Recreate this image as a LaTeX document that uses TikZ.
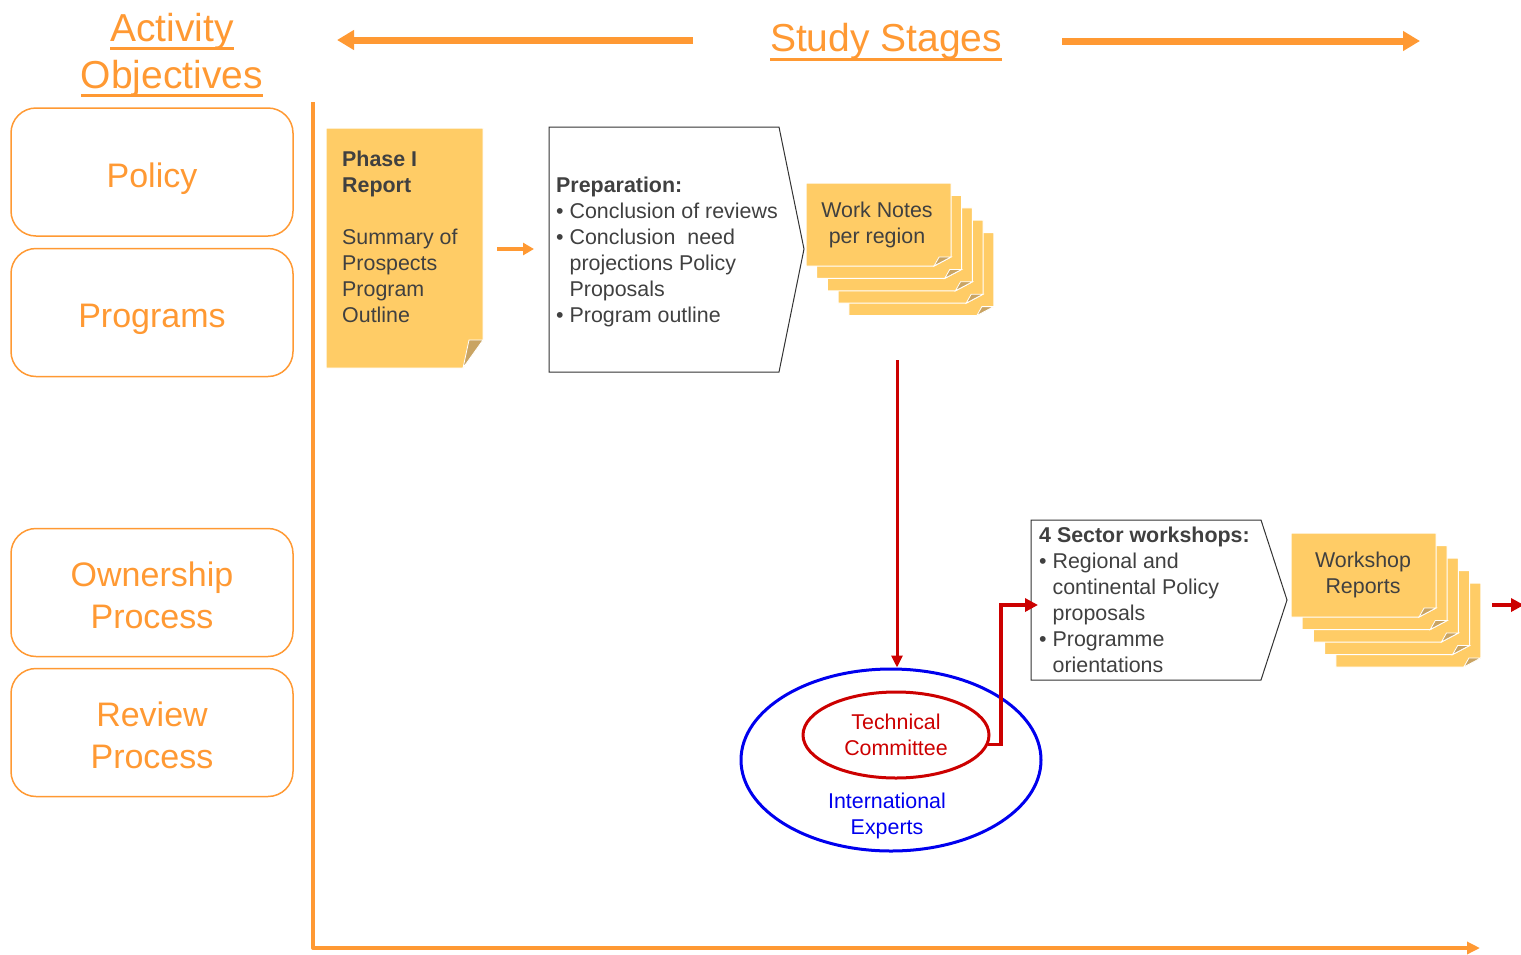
\documentclass[tikz,border=0pt]{standalone}
\usepackage{fontspec}
\setmainfont{Liberation Sans}
\usetikzlibrary{positioning}
\usetikzlibrary{arrows.meta}
\usetikzlibrary{shapes.geometric}

\definecolor{stageorange}{HTML}{FF9933}
\definecolor{notefill}{HTML}{FFCC66}
\definecolor{foldfill}{HTML}{C9A463}
\definecolor{inkgrey}{HTML}{404040}
\definecolor{tcred}{HTML}{CC0000}
\definecolor{expblue}{HTML}{0000EE}

\newcommand\titlefont{\fontsize{39}{47}\selectfont}
\newcommand\boxfont{\fontsize{34}{42}\selectfont}
\newcommand\notefont{\fontsize{21.4}{26}\selectfont}
\newcommand\thickul[1]{\setbox0\hbox{#1}\rlap{\rule[-9pt]{\wd0}{3pt}}\box0}

\tikzset{
  objbox/.style={draw=stageorange, line width=1.5pt, rounded corners=25pt,
    minimum width=282pt, minimum height=128pt},
  objlabel/.style={text=stageorange, font=\boxfont, align=center, inner sep=0pt},
  stagearrow/.style={draw=stageorange, line width=7pt,
    -{Triangle[length=17pt,width=19pt]}},
  axisline/.style={draw=stageorange, line width=4pt,
    -{Triangle[length=13pt,width=12pt]}},
  redarrow/.style={draw=tcred, line width=3.5pt,
    -{Triangle[length=13pt,width=13pt]}},
  notetext/.style={font=\notefont, text=inkgrey, inner sep=0pt},
  pics/foldnote/.style n args={4}{code={
    \fill[notefill, draw=white, line width=1pt]
      (0,0) -- (#1,0) -- (#1,#2-#4) -- (#1-#3,#2) -- (0,#2) -- cycle;
    \fill[foldfill, draw=white, line width=0.8pt]
      (#1-#3,#2) -- (#1,#2-#4) -- (#1-0.7*#3,#2-#4) -- cycle;
  }}
}

\begin{document}
\begin{tikzpicture}[x=1pt, y=-1pt]
		\useasboundingbox (0,0) rectangle (1521,954);

		% Titles
		\node[text=stageorange, font=\titlefont, align=center, inner sep=0pt] (actobj) at (172,55)
			{\thickul{Activity}\\\thickul{Objectives}};
		\node[text=stageorange, font=\titlefont, inner sep=0pt] (stages) at (886,42)
			{\thickul{Study Stages}};

		% Define the coordinates of the points
		\coordinate (SL1) at (693,40);
		\coordinate (SL2) at (337,40);
		\coordinate (SR1) at (1062,41);
		\coordinate (SR2) at (1420,41);
		\coordinate (AX1) at (313,102);
		\coordinate (AX2) at (313,948);
		\coordinate (AX3) at (1480,948);

		\draw[stagearrow] (SL1) -- (SL2);
		\draw[stagearrow] (SR1) -- (SR2);
		\draw[axisline, line join=round] (AX1) -- (AX2) -- (AX3);

		% Activity objectives
		\node[objbox] (policy) at (152,172) {};
		\node[objbox] (programs) at (152,312.5) {};
		\node[objbox] (ownership) at (152,592.5) {};
		\node[objbox] (review) at (152,732.5) {};
		\node[objlabel] (policylabel) at ([yshift=-7pt]policy.center) {Policy};
		\node[objlabel] (programslabel) at ([yshift=-7pt]programs.center) {Programs};
		\node[objlabel] (ownershiplabel) at ([yshift=-3pt]ownership.center) {Ownership\\Process};
		\node[objlabel] (reviewlabel) at ([yshift=-3pt]review.center) {Review\\Process};

		% Phase I report
		\pic at (326,128) {foldnote={157}{240}{20}{28}};
		\node[notetext, anchor=north west, align=left] (phase) at (342,151)
			{\textbf{Phase I}\\\textbf{Report}\\[26pt]Summary of\\Prospects\\Program\\Outline};

		\coordinate (phaseout) at (497,249);
		\coordinate (prepin) at (534,249);
		\draw[draw=stageorange, line width=4pt, -{Triangle[length=11pt,width=12pt]}] (phaseout) -- (prepin);

		% Preparation
		\coordinate (P1) at (549,127);
		\coordinate (P2) at (779,127);
		\coordinate (P3) at (804,249);
		\coordinate (P4) at (779,372);
		\coordinate (P5) at (549,372);
		\draw[draw=inkgrey!80!black, line width=1pt, fill=white] (P1) -- (P2) -- (P3) -- (P4) -- (P5) -- cycle;
		\node[notetext, anchor=north west, align=left] (prep) at (556,177)
			{\textbf{Preparation:}\\
			\textbullet\ Conclusion of reviews\\
			\textbullet\ Conclusion\ \ need\\
			\phantom{\textbullet\ }projections Policy\\
			\phantom{\textbullet\ }Proposals\\
			\textbullet\ Program outline};

		% Work notes per region
		\foreach \k in {4,3,2,1,0}
			\pic at (806+\k*10.7, 183+\k*12.4) {foldnote={145}{83}{17}{9}};
		\node[notetext, align=center] (worknotes) at (877,225) {Work Notes\\per region};

		% Committee and experts
		\node[ellipse, draw=expblue, line width=3pt, minimum width=300pt, minimum height=182pt] (experts) at (891,760) {};
		\node[ellipse, draw=tcred, line width=3pt, minimum width=186pt, minimum height=86pt,
			font=\notefont, text=tcred, align=center, inner sep=0pt] (techcom) at (896,735) {Technical\\Committee};
		\node[font=\notefont, text=expblue, align=center, inner sep=0pt] (intexp) at (887,816) {International\\Experts};

		\coordinate (notesout) at (897,360);
		\draw[redarrow, line width=3pt, -{Triangle[length=12pt,width=11pt]}] (notesout) -- (notesout |- experts.north);

		% Sector workshops
		\coordinate (W1) at (1031,520);
		\coordinate (W2) at (1261,520);
		\coordinate (W3) at (1287,600);
		\coordinate (W4) at (1261,680);
		\coordinate (W5) at (1031,680);
		\draw[draw=inkgrey!80!black, line width=1pt, fill=white] (W1) -- (W2) -- (W3) -- (W4) -- (W5) -- cycle;
		\node[notetext, anchor=north west, align=left] (workshops) at (1039,527)
			{\textbf{4 Sector workshops:}\\
			\textbullet\ Regional and\\
			\phantom{\textbullet\ }continental Policy\\
			\phantom{\textbullet\ }proposals\\
			\textbullet\ Programme\\
			\phantom{\textbullet\ }orientations};

		\coordinate (tcbend) at (1001,605);
		\coordinate (wsin) at (1038,605);
		\draw[redarrow] (techcom.-6) -| (tcbend) -- (wsin);

		% Workshop reports
		\foreach \k in {4,3,2,1,0}
			\pic at (1291+\k*11.2, 533+\k*12.5) {foldnote={145}{84}{17}{9}};
		\node[notetext, align=center] (wsreports) at (1363,575) {Workshop\\Reports};

		\coordinate (repout) at (1492,605);
		\coordinate (repnext) at (1524,605);
		\draw[redarrow] (repout) -- (repnext);
	\end{tikzpicture}
\end{document}
